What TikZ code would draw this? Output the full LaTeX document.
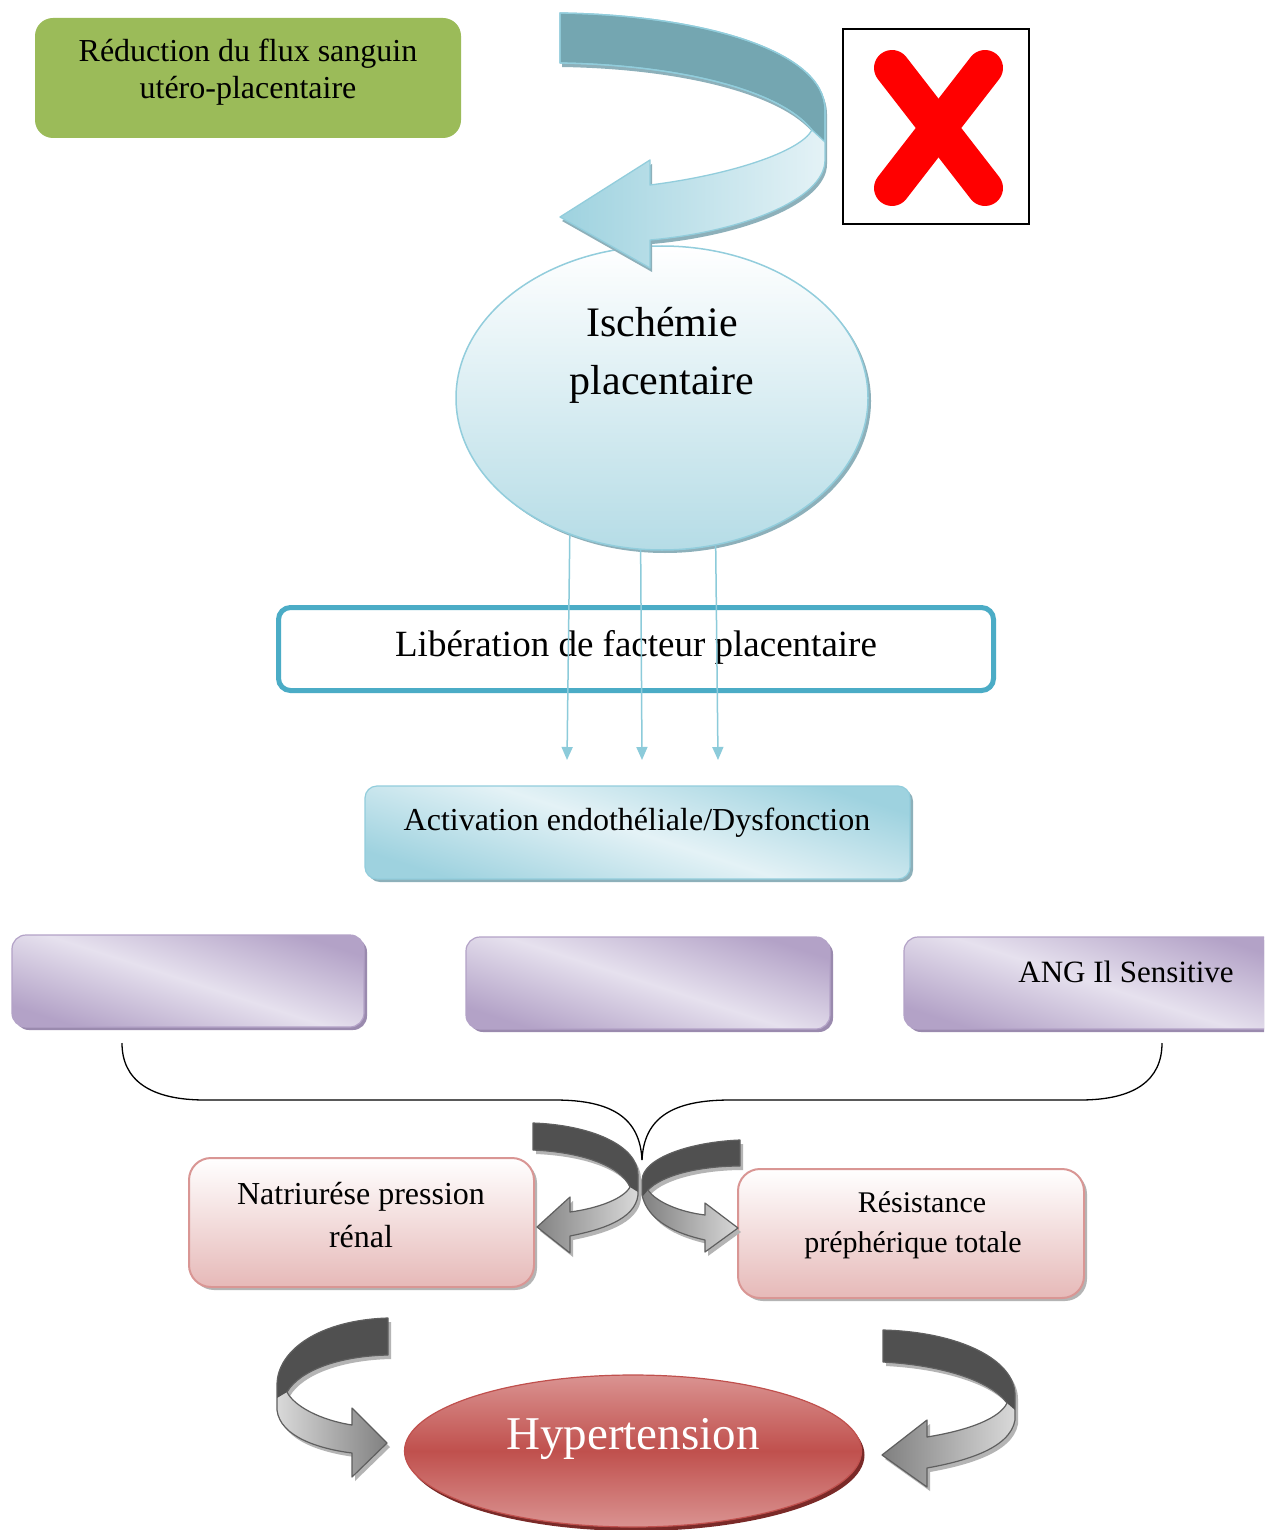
\documentclass[tikz,border=0pt]{standalone}
\usepackage{fontspec}
\setmainfont{Liberation Serif}
\usetikzlibrary{shapes.geometric,arrows.meta,shadows}
\definecolor{cGreen}{HTML}{9BBB59}
\definecolor{cTeal}{HTML}{4BACC6}
\definecolor{cBlueLine}{HTML}{92CDDC}
\definecolor{cBlueDark}{HTML}{74A6B1}
\definecolor{cBlueA}{HTML}{9ED2DF}
\definecolor{cBlueB}{HTML}{E4F2F6}
\definecolor{cBlueC}{HTML}{B5DCE6}
\definecolor{cBlueShadow}{HTML}{8DB0BA}
\definecolor{cPurp}{HTML}{B3A2C7}
\definecolor{cPurpL}{HTML}{E6E1EE}
\definecolor{cPurpShadow}{HTML}{9A8AAE}
\definecolor{cPink}{HTML}{E6B9B8}
\definecolor{cPinkLine}{HTML}{D99694}
\definecolor{cRed}{HTML}{C0504D}
\definecolor{cRedL}{HTML}{DA9391}
\definecolor{cRedShadow}{HTML}{7A2A28}
\definecolor{cGreyD}{HTML}{505050}
\definecolor{cGreyL}{HTML}{D9D9D9}
\definecolor{cGreyM}{HTML}{808080}
\definecolor{cGreyLine}{HTML}{5F5F5F}
\definecolor{cGreyShadow}{HTML}{B4B4B4}
\definecolor{cArrow}{HTML}{8CCBDA}

\newcommand\pathTopFull{(560,13) .. controls (700,15) and (825,50) .. (825,110) -- (825,160) .. controls (825,200) and (740,232) .. (650,240) -- (650,268) -- (560,217) -- (650,160) -- (650,185) .. controls (730,175) and (800,152) .. (812,130) .. controls (780,90) and (680,65) .. (560,63) -- cycle}
\newcommand\pathTopDark{(560,13) .. controls (700,15) and (825,50) .. (825,110) -- (825,142) -- (812,130) .. controls (780,90) and (680,65) .. (560,63) -- cycle}

\newcommand\pathMLFull{(533,1123) .. controls (590,1125) and (638,1145) .. (638,1175) -- (638,1195) .. controls (635,1220) and (600,1230) .. (570,1236) -- (570,1253) -- (537,1227) -- (570,1197) -- (570,1212) .. controls (600,1208) and (624,1198) .. (630,1187) .. controls (620,1165) and (580,1152) .. (533,1150) -- cycle}
\newcommand\pathMLDark{(533,1123) .. controls (590,1125) and (638,1145) .. (638,1175) -- (638,1192) -- (630,1187) .. controls (620,1165) and (580,1152) .. (533,1150) -- cycle}

\newcommand\pathMRFull{(740,1140) .. controls (690,1142) and (643,1158) .. (642,1180) -- (642,1195) .. controls (648,1222) and (678,1234) .. (705,1240) -- (705,1252) -- (738,1228) -- (705,1203) -- (705,1215) .. controls (680,1212) and (656,1202) .. (648,1190) .. controls (662,1175) and (700,1166) .. (740,1166) -- cycle}
\newcommand\pathMRDark{(740,1140) .. controls (690,1142) and (643,1158) .. (642,1180) -- (642,1197) -- (648,1190) .. controls (662,1175) and (700,1166) .. (740,1166) -- cycle}

\newcommand\pathBLFull{(388,1318) .. controls (320,1320) and (277,1350) .. (277,1385) -- (277,1410) .. controls (280,1437) and (320,1449) .. (352,1453) -- (352,1477) -- (387,1443) -- (352,1408) -- (352,1425) .. controls (320,1420) and (294,1406) .. (287,1392) .. controls (300,1370) and (340,1356) .. (388,1355) -- cycle}
\newcommand\pathBLDark{(388,1318) .. controls (320,1320) and (277,1350) .. (277,1385) -- (277,1398) -- (287,1392) .. controls (300,1370) and (340,1356) .. (388,1355) -- cycle}

\newcommand\pathBRFull{(883,1330) .. controls (960,1332) and (1015,1360) .. (1015,1395) -- (1015,1420) .. controls (1010,1450) and (960,1462) .. (927,1468) -- (927,1487) -- (882,1455) -- (927,1420) -- (927,1437) .. controls (970,1430) and (1000,1418) .. (1007,1403) .. controls (990,1380) and (940,1365) .. (883,1362) -- cycle}
\newcommand\pathBRDark{(883,1330) .. controls (960,1332) and (1015,1360) .. (1015,1395) -- (1015,1410) -- (1007,1403) .. controls (990,1380) and (940,1365) .. (883,1362) -- cycle}

\tikzset{
  lbl/.style={align=center, inner sep=0pt, text=black, font=\fontsize{32}{37}\selectfont},
  greenbox/.style={rectangle, draw=none, fill=cGreen, rounded corners=18pt, minimum width=426pt, minimum height=120pt, inner sep=0pt},
  ischell/.style={ellipse, draw=cBlueLine, line width=1.5pt, top color=white, bottom color=cBlueC, minimum width=412pt, minimum height=304pt, inner sep=0pt,
     drop shadow={shadow xshift=3pt, shadow yshift=-3pt, fill=cBlueShadow, opacity=1}},
  libbox/.style={rectangle, draw=cTeal, line width=5pt, fill=white, rounded corners=12pt, minimum width=715pt, minimum height=83pt, inner sep=0pt},
  actbox/.style={rectangle, draw=cBlueLine, line width=1.2pt, rounded corners=12pt, top color=cBlueA, bottom color=cBlueA, middle color=cBlueB, shading angle=-18,
     minimum width=545pt, minimum height=93pt, inner sep=0pt,
     drop shadow={shadow xshift=3pt, shadow yshift=-3pt, fill=cBlueShadow, opacity=1}},
  purpbox/.style={rectangle, draw=cPurp, line width=1.2pt, rounded corners=14pt, top color=cPurp, bottom color=cPurp, middle color=cPurpL, shading angle=-18,
     minimum height=92pt, inner sep=0pt,
     drop shadow={shadow xshift=3pt, shadow yshift=-3pt, fill=cPurpShadow, opacity=1}},
  pinkbox/.style={rectangle, draw=cPinkLine, line width=2pt, rounded corners=22pt, top color=white, bottom color=cPink,
     minimum width=345pt, minimum height=129pt, inner sep=0pt,
     drop shadow={shadow xshift=3pt, shadow yshift=-3pt, fill=cGreyShadow, opacity=1}},
  hyperell/.style={ellipse, draw=cRed, line width=1.2pt, top color=cRedL, bottom color=cRedL, middle color=cRed,
     minimum width=457pt, minimum height=152pt, inner sep=0pt,
     drop shadow={shadow xshift=3pt, shadow yshift=-4pt, fill=cRedShadow, opacity=1}},
  flow/.style={draw=cArrow, line width=1.5pt, -{Triangle[length=13pt,width=11pt]}},
  brace/.style={draw=black, line width=1.3pt},
  bandline/.style={draw=cGreyLine, line width=1.2pt, line join=round},
}

\begin{document}
\begin{tikzpicture}[x=1pt,y=-1pt]
\clip (0,0) rectangle (1264,1530);
\fill[white] (0,0) rectangle (1264,1530);

% green box
\node[greenbox] (red) at (248,78) {};
\node[lbl] (redtxt) at (248,72) {Réduction du flux sanguin\\utéro-placentaire};

% X box
\node[rectangle, draw=black, line width=2pt, minimum width=186pt, minimum height=195pt, inner sep=0pt] (xbox) at (936,126.5) {};
\draw[red, line width=36pt, line cap=round] (892,68) -- (985,188);
\draw[red, line width=36pt, line cap=round] (985,68) -- (892,188);

% ischemia ellipse
\node[ischell] (isch) at (662,398) {};
\node[align=center, inner sep=0pt, font=\fontsize{42}{58}\selectfont] (ischtxt) at (662,355) {Ischémie\\placentaire};

% top blue curved arrow (drawn over the ellipse)
\fill[cBlueShadow, shift={(2,4)}] \pathTopFull;
\shade[left color=cBlueA, right color=cBlueB] \pathTopFull;
\fill[cBlueDark] \pathTopDark;
\draw[cBlueLine, line width=1.3pt, line join=round] \pathTopFull;
\draw[cBlueLine, line width=1.3pt, line join=round] \pathTopDark;

% liberation box
\node[libbox] (lib) at (636,649) {};
\node[lbl, font=\fontsize{37}{40}\selectfont] (libtxt) at (636,647) {Libération de facteur placentaire};

% flows
\coordinate (f1) at (567,760);
\coordinate (f2) at (642,760);
\coordinate (f3) at (718,760);
\draw[flow] (isch.236.3) -- (f1);
\draw[flow] (isch.262.5) -- (f2);
\draw[flow] (isch.290.9) -- (f3);

% activation box
\node[actbox] (act) at (637.5,832.5) {};
\node[lbl] (acttxt) at (637,823) {Activation endothéliale/Dysfonction};

% purple boxes
\node[purpbox, minimum width=352pt] (p1) at (188,981) {};
\node[purpbox, minimum width=364pt] (p2) at (648,983) {};
\node[purpbox, minimum width=380pt] (p3) at (1094,983) {};
\node[lbl, font=\fontsize{31}{36}\selectfont] (p3txt) at (1126,972) {ANG Il Sensitive};

% pink boxes
\node[pinkbox] (nat) at (361.5,1222.5) {};
\node[lbl] (nattxt) at (361,1215) {Natriurése pression\\\rule{0pt}{1.1em}rénal};
\node[pinkbox, minimum width=346pt] (res) at (911,1233.5) {};
\node[lbl, font=\fontsize{30}{40}\selectfont] (restxt) at (913,1225) {\hspace*{18pt}Résistance\\préphérique totale};

% middle grey arrows
\fill[cGreyShadow, shift={(3,4)}] \pathMLFull;
\fill[cGreyShadow, shift={(3,4)}] \pathMRFull;
\shade[left color=cGreyM, right color=cGreyL] \pathMLFull;
\fill[cGreyD] \pathMLDark;
\draw[bandline] \pathMLFull;
\shade[left color=cGreyM, right color=cGreyL] \pathMRFull;
\fill[cGreyD] \pathMRDark;
\draw[bandline] \pathMRFull;

% brace
\coordinate (bl) at (122,1043);
\coordinate (bm) at (642,1160);
\coordinate (br) at (1162,1043);
\draw[brace] (bl) .. controls (122,1080) and (150,1100) .. (205,1100) -- (555,1100) .. controls (612,1100) and (640,1118) .. (bm);
\draw[brace] (bm) .. controls (644,1118) and (672,1100) .. (730,1100) -- (1080,1100) .. controls (1135,1100) and (1162,1080) .. (br);

% hypertension
\node[hyperell] (hyp) at (633,1451) {};
\node[inner sep=0pt, text=white, font=\fontsize{47}{50}\selectfont] (hyptxt) at (633,1439) {Hypertension};

% bottom grey arrows
\fill[cGreyShadow, shift={(3,4)}] \pathBLFull;
\fill[cGreyShadow, shift={(3,4)}] \pathBRFull;
\shade[left color=cGreyL, right color=cGreyM] \pathBLFull;
\fill[cGreyD] \pathBLDark;
\draw[bandline] \pathBLFull;
\shade[left color=cGreyM, right color=cGreyL] \pathBRFull;
\fill[cGreyD] \pathBRDark;
\draw[bandline] \pathBRFull;
\end{tikzpicture}
\end{document}
